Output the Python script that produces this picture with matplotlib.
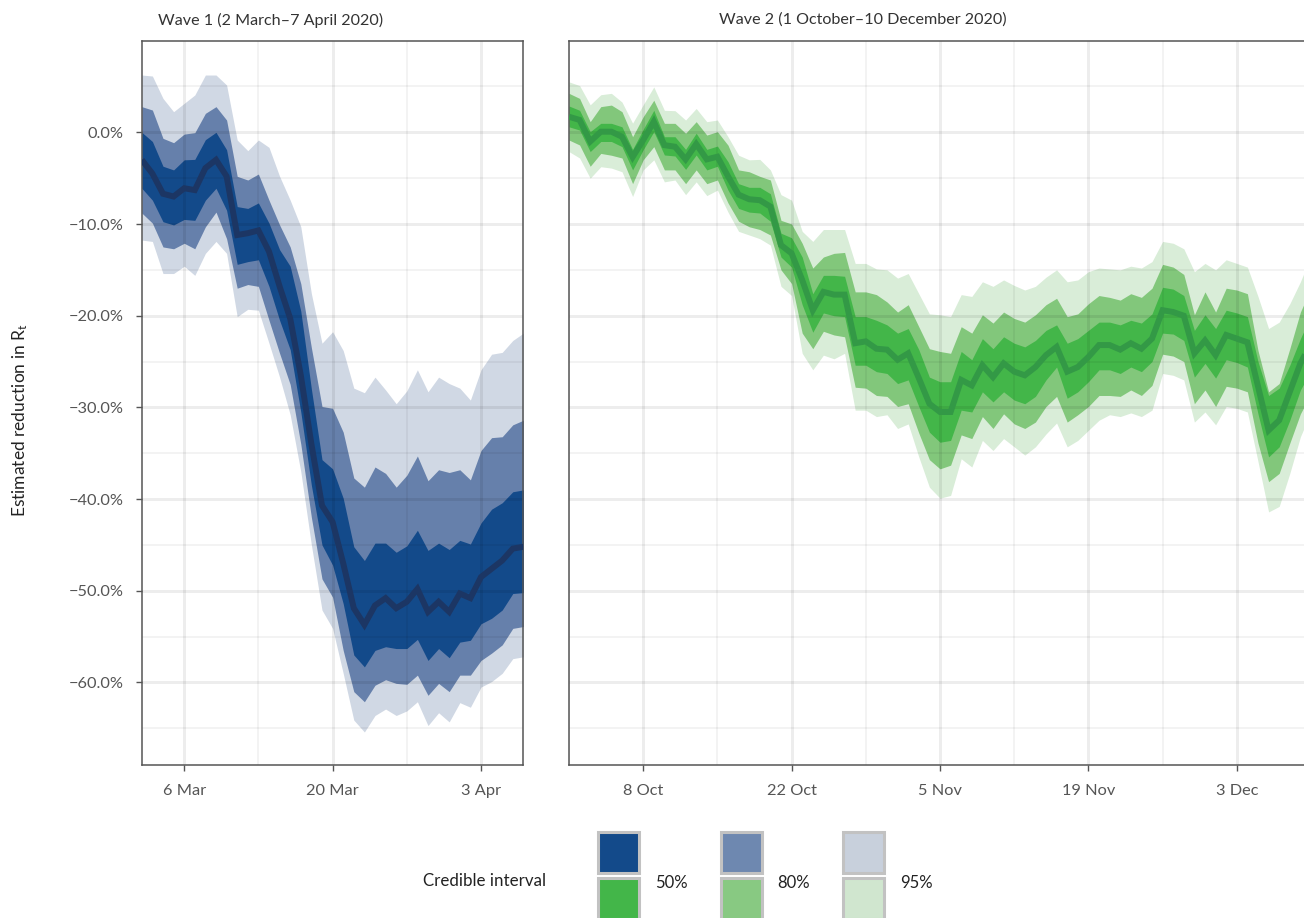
import numpy as np
import pandas as pd
import matplotlib
matplotlib.use("Agg")
import matplotlib.pyplot as plt
from matplotlib.patches import Rectangle

plt.rcParams["font.family"] = ["Lato", "DejaVu Sans"]

# ---- wave 1: 2 March - 7 April 2020, % change in Rt ----
w1Dates = pd.date_range("2020-03-02", "2020-04-07", freq="D")
w1Med = [-3.0, -4.5, -6.7, -7.0, -6.1, -6.3, -3.9, -3.0, -4.8, -11.2, -11.0, -10.7, -13.0,
         -16.8, -20.3, -26.5, -34.0, -40.7, -42.5, -47.0, -51.9, -53.7, -51.6, -50.8, -51.9,
         -51.2, -49.8, -52.3, -51.2, -52.3, -50.3, -50.8, -48.5, -47.6, -46.7, -45.4, -45.2]
w1Lo50 = [-6.1, -7.4, -9.75, -10.1, -9.5, -9.6, -7.4, -6.1, -8.5, -14.4, -14.1, -13.9, -16.8,
          -20.5, -23.7, -30.5, -38.5, -45.0, -47.2, -51.4, -57.0, -58.3, -56.5, -56.1, -56.3,
          -56.3, -55.3, -57.6, -56.3, -57.3, -55.6, -55.4, -53.6, -53.0, -52.1, -50.3, -50.2]
w1Hi50 = [0.0, -1.0, -3.7, -4.1, -3.0, -2.95, -0.8, 0.0, -1.9, -8.1, -8.3, -7.7, -9.9,
          -12.8, -14.6, -19.5, -28.0, -35.7, -36.7, -39.9, -45.2, -46.7, -44.8, -44.8, -45.8,
          -45.1, -43.4, -45.6, -44.8, -45.5, -44.5, -44.9, -42.6, -41.1, -40.4, -39.2, -39.0]
w1Lo80 = [-8.8, -9.9, -12.5, -12.7, -12.1, -12.7, -10.3, -8.7, -11.6, -17.0, -16.6, -16.8, -20.5,
          -24.1, -27.5, -34.0, -42.0, -48.7, -50.7, -56.5, -61.0, -62.1, -60.3, -59.7, -60.1,
          -60.2, -59.2, -61.4, -60.1, -61.0, -59.2, -59.2, -57.6, -56.8, -55.9, -54.1, -53.9]
w1Hi80 = [2.8, 2.43, -0.66, -1.13, -0.19, -0.04, 2.07, 2.8, 1.34, -4.8, -5.2, -4.55, -7.4,
          -10.1, -12.5, -16.5, -23.5, -29.9, -30.1, -32.7, -37.7, -38.7, -36.5, -37.2, -38.7,
          -37.4, -35.3, -38.0, -36.8, -37.1, -36.8, -37.9, -34.7, -33.3, -33.2, -31.9, -31.4]
w1Lo95 = [-11.75, -11.9, -15.4, -15.4, -14.6, -15.6, -13.2, -11.9, -13.2, -20.1, -19.3, -19.4, -23.0,
          -26.7, -30.8, -37.0, -45.0, -52.1, -54.1, -59.0, -64.1, -65.4, -63.6, -62.9, -63.6,
          -63.1, -62.1, -64.7, -63.3, -64.3, -62.2, -62.7, -60.5, -59.9, -59.0, -57.4, -57.2]
w1Hi95 = [6.25, 6.14, 3.7, 2.25, 3.16, 4.07, 6.25, 6.25, 5.16, -0.84, -2.0, -0.84, -1.64,
          -4.8, -7.4, -10.3, -17.6, -23.0, -21.75, -23.8, -27.9, -28.4, -26.7, -28.1, -29.6,
          -28.2, -25.9, -28.3, -26.7, -27.4, -27.9, -29.2, -25.9, -24.2, -24.0, -22.7, -21.9]

# ---- wave 2: 1 October - 10 December 2020 ----
w2Dates = pd.date_range("2020-10-01", "2020-12-10", freq="D")
w2Med = [1.7, 1.35, -1.0, 0.07, 0.07, -0.48, -2.7, -0.84, 1.16, -1.4, -1.57, -2.95, -1.28, -2.95,
         -2.66, -4.8, -6.8, -7.3, -7.4, -8.1, -12.3, -13.2,
         -16.1, -19.4, -17.4, -17.7, -17.7, -23.0, -22.8, -23.6, -23.7, -24.8, -24.1, -26.8,
         -29.6, -30.5, -30.5, -27.0, -27.6, -25.4, -26.7, -25.2, -26.1, -26.5, -25.6,
         -24.3, -23.4, -26.1, -25.6, -24.5, -23.2, -23.2, -23.7, -23.0, -23.6, -22.5, -19.4,
         -19.6, -20.0, -24.1, -22.7, -24.3, -22.1, -22.5, -22.9, -27.7, -32.5, -31.4, -28.3,
         -25.2, -23.0]
w2Lo50 = [0.6, 0.25, -2.1, -1.0, -1.0, -1.56, -4.1, -1.9, 0.07, -2.47, -2.58, -4.04, -2.47, -4.1,
          -3.7, -6.3, -8.3, -8.7, -8.8, -9.7, -13.6, -14.7,
          -18.8, -21.8, -19.7, -20.0, -20.1, -25.4, -25.4, -26.1, -26.3, -27.4, -27.0, -29.9,
          -32.7, -33.8, -33.6, -30.3, -30.5, -28.3, -29.4, -28.3, -29.2, -29.6, -28.8,
          -27.0, -25.6, -29.0, -28.3, -27.2, -25.9, -25.9, -26.3, -25.6, -26.1, -25.0, -21.9,
          -22.0, -22.7, -26.7, -25.2, -26.8, -24.8, -25.1, -25.6, -30.7, -35.4, -34.3, -31.4,
          -28.1, -26.0]
w2Hi50 = [2.87, 2.4, 0.07, 0.98, 0.98, 0.6, -1.86, 0.32, 2.4, -0.48, -0.48, -1.86, -0.1, -1.86,
          -1.5, -3.2, -5.6, -6.0, -6.0, -6.7, -11.0, -11.5,
          -13.6, -17.6, -15.6, -15.6, -15.7, -20.1, -20.1, -20.5, -21.0, -21.9, -21.4, -23.7,
          -26.7, -27.2, -27.2, -23.9, -24.8, -22.5, -23.6, -22.3, -23.0, -23.4, -22.7,
          -21.6, -21.0, -23.0, -22.5, -21.6, -20.7, -20.7, -21.0, -20.5, -20.8, -19.8, -16.9,
          -17.1, -17.8, -21.6, -19.9, -21.4, -19.4, -19.7, -20.1, -25.0, -28.7, -27.9, -25.4,
          -22.5, -20.0]
w2Lo80 = [-0.84, -1.38, -3.7, -2.3, -2.5, -2.8, -5.6, -3.0, -1.56, -4.1, -4.1, -5.6, -4.1, -5.6,
          -5.2, -7.7, -9.7, -10.3, -10.6, -11.2, -15.0, -16.5,
          -21.9, -23.6, -21.7, -22.1, -22.3, -27.8, -27.9, -28.7, -28.8, -29.9, -29.6, -32.8,
          -35.7, -36.7, -36.3, -33.0, -33.4, -31.0, -32.3, -30.7, -31.8, -32.3, -31.6,
          -29.9, -28.8, -31.6, -30.8, -29.9, -28.7, -28.7, -28.8, -28.1, -28.7, -27.6, -24.2,
          -24.4, -25.0, -29.6, -28.1, -29.9, -27.7, -27.9, -28.3, -33.9, -38.1, -37.2, -33.9,
          -30.7, -28.5]
w2Hi80 = [4.25, 3.7, 1.16, 2.8, 2.97, 2.25, -0.48, 1.7, 3.5, 0.98, 0.98, -0.1, 1.16, -0.3,
          0.07, -1.4, -4.1, -4.3, -4.8, -5.2, -9.6, -10.0,
          -12.1, -14.8, -13.6, -13.2, -13.1, -17.4, -17.4, -17.7, -18.5, -19.6, -18.8, -21.2,
          -23.6, -23.9, -24.1, -21.2, -21.9, -19.9, -20.8, -19.6, -20.3, -20.7, -19.9,
          -18.8, -18.1, -20.1, -19.8, -18.7, -17.8, -18.0, -18.3, -17.6, -18.0, -17.0, -14.4,
          -14.7, -15.5, -19.9, -17.4, -19.6, -17.0, -17.2, -17.6, -23.8, -28.3, -27.4, -23.6,
          -19.6, -17.0]
w2Lo95 = [-2.1, -2.8, -5.0, -3.75, -3.9, -4.3, -7.0, -4.1, -3.0, -5.4, -5.2, -6.8, -5.4, -6.9,
          -6.3, -8.7, -10.8, -11.2, -11.6, -12.3, -16.8, -17.8,
          -24.1, -25.9, -24.3, -24.7, -24.1, -30.3, -30.3, -31.0, -30.8, -32.3, -31.8, -35.4,
          -38.7, -39.9, -39.6, -35.6, -36.5, -33.6, -34.7, -33.4, -34.3, -35.2, -34.3,
          -32.9, -31.7, -34.3, -33.6, -32.5, -31.4, -30.8, -31.0, -30.6, -31.0, -30.3, -26.3,
          -26.5, -27.0, -31.6, -30.5, -31.9, -29.9, -30.1, -30.5, -35.9, -41.4, -40.8, -37.2,
          -33.2, -30.5]
w2Hi95 = [5.5, 5.1, 3.0, 4.1, 4.25, 3.3, 1.0, 3.0, 4.95, 2.4, 2.36, 1.34, 2.6, 1.16,
          1.34, -0.48, -2.5, -3.0, -2.95, -4.1, -6.8, -7.4,
          -10.8, -11.9, -10.6, -10.6, -10.6, -14.3, -14.3, -14.9, -15.0, -15.9, -15.4, -17.6,
          -19.8, -19.9, -20.1, -17.7, -17.9, -16.3, -16.8, -16.1, -16.7, -17.2, -16.8,
          -15.8, -15.0, -16.3, -16.1, -15.2, -14.8, -14.9, -15.0, -14.6, -14.8, -14.1, -11.9,
          -12.1, -12.7, -15.2, -14.3, -15.0, -13.9, -14.3, -14.7, -17.9, -21.4, -20.7, -18.7,
          -16.3, -13.5]

yTicks = [0, -10, -20, -30, -40, -50, -60]
w1TickDates = ["2020-03-06", "2020-03-20", "2020-04-03"]
w1TickLabels = ["6 Mar", "20 Mar", "3 Apr"]
w2TickDates = ["2020-10-08", "2020-10-22", "2020-11-05", "2020-11-19", "2020-12-03"]
w2TickLabels = ["8 Oct", "22 Oct", "5 Nov", "19 Nov", "3 Dec"]
ciLevels = ["50%", "80%", "95%"]

blues = ["#134a8a", "#6680ab", "#d0d8e4"]
greens = ["#43b649", "#82c77b", "#d9edd8"]
blueKey = ["#134a8a", "#6e88b0", "#c8d0dc"]
greenKey = ["#43b649", "#88c982", "#d0e6cf"]
blueLine = "#1c3664"
greenLine = "#339946"

W, H = 1304, 918
yMin, yMax = -69.0, 9.96
dark = "#555555"

fig = plt.figure(figsize=(W / 100, H / 100), dpi=100)
pxDay = 10.6
axL = fig.add_axes([141.8 / W, 153 / H, 36 * pxDay / W, 724 / H])
axR = fig.add_axes([569 / W, 153 / H, 70 * pxDay / W, 724 / H])


def drawWave(ax, dates, bands, med, cols, lineCol):
    for (lo, hi), c in zip(bands, cols[::-1]):
        ax.fill_between(dates, lo, hi, color=c, lw=0, zorder=1)
    ax.plot(dates, med, color=lineCol, lw=4.3, zorder=3,
            solid_joinstyle="miter", solid_capstyle="butt")


def styleAxis(ax, dates, tickDates, tickLabels, showY):
    ticks = pd.to_datetime(tickDates)
    ax.set_xticks(ticks)
    ax.set_xticklabels(tickLabels)
    half = pd.Timedelta(days=7)
    ax.set_xticks(list(ticks - half) + [ticks[-1] + half], minor=True)
    ax.set_yticks(yTicks)
    ax.set_yticks([t + 5 for t in yTicks] + [yTicks[-1] - 5], minor=True)
    ax.set_yticklabels([("%.1f%%" % t).replace("-", "\u2212") for t in yTicks])
    # limits go last so the minor ticks outside the range do not widen them
    ax.set_xlim(dates[0], dates[-1])
    ax.set_ylim(yMin, yMax)
    ax.grid(which="major", color="black", alpha=0.07, lw=2.2)
    ax.grid(which="minor", color="black", alpha=0.05, lw=1.3)
    ax.tick_params(which="major", length=4, width=1.0, color=dark, labelcolor=dark,
                   labelsize=11.8, pad=9)
    ax.tick_params(axis="x", which="major", pad=10)
    ax.tick_params(which="minor", length=0)
    for s in ax.spines.values():
        s.set_color(dark)
        s.set_linewidth(1.1)
    if not showY:
        ax.tick_params(axis="y", left=False, labelleft=False)


drawWave(axL, w1Dates, [(w1Lo95, w1Hi95), (w1Lo80, w1Hi80), (w1Lo50, w1Hi50)],
         w1Med, blues, blueLine)
drawWave(axR, w2Dates, [(w2Lo95, w2Hi95), (w2Lo80, w2Hi80), (w2Lo50, w2Hi50)],
         w2Med, greens, greenLine)
styleAxis(axL, w1Dates, w1TickDates, w1TickLabels, True)
styleAxis(axR, w2Dates, w2TickDates, w2TickLabels, False)

fig.text(158 / W, 1 - 20 / H, "Wave 1 (2 March\u20137 April 2020)", ha="left", va="center",
         fontsize=11.6, color="#333333")
fig.text(719 / W, 1 - 20 / H, "Wave 2 (1 October\u201310 December 2020)", ha="left", va="center",
         fontsize=11.6, color="#333333")
fig.text(20 / W, 1 - 420 / H, r"Estimated reduction in $\mathregular{R_t}$", rotation=90,
         ha="center", va="center", fontsize=12.5, color="#222222")

# legend: blue swatch above green swatch for each interval
key = fig.add_axes([0, 0, 1, 1])
key.set_xlim(0, W)
key.set_ylim(H, 0)
key.axis("off")
key.text(423, 881, "Credible interval", ha="left", va="center", fontsize=12.2, color="#222222")
for i, lab in enumerate(ciLevels):
    x0 = 598 + i * 122.5
    key.add_patch(Rectangle((x0, 832), 41, 41, facecolor=blueKey[i], edgecolor="#c2c2c2", lw=2.2))
    key.add_patch(Rectangle((x0, 878), 41, 41, facecolor=greenKey[i], edgecolor="#c2c2c2", lw=2.2))
    key.text(x0 + 57, 883, lab, ha="left", va="center", fontsize=12, color="#222222")

fig.savefig("out.png", dpi=100, facecolor="white")
